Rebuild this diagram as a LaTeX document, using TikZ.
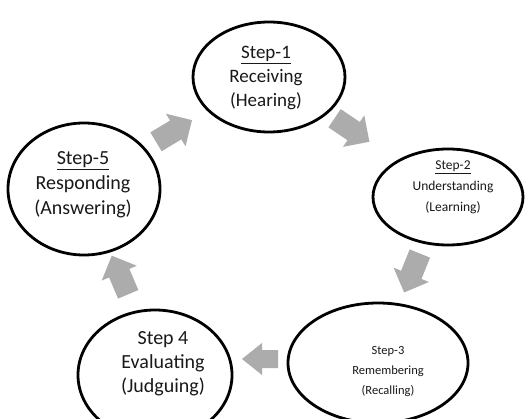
\documentclass[tikz,border=0pt]{standalone}
\usepackage{fontspec}
\setmainfont{Carlito}
\usetikzlibrary{shapes.geometric}
\definecolor{arrowgray}{RGB}{172,172,172}
\definecolor{inkgray}{RGB}{25,25,25}
\begin{document}
\begin{tikzpicture}[x=1pt,y=-1pt,
  stage/.style={draw=black, line width=2.8pt, ellipse, inner sep=0pt},
  caption/.style={align=center, text=inkgray, inner sep=0pt},
  % block arrow pointing along +x, centred on its origin
  flowarrow/.pic={
    \fill[arrowgray] (-21,-11) -- (2,-11) -- (2,-19) -- (21,0) -- (2,19)
      -- (2,11) -- (-21,11) -- cycle;
  },
  shortarrow/.pic={
    \fill[arrowgray] (-18,-9) -- (-2,-9) -- (-2,-16) -- (18,0) -- (-2,16)
      -- (-2,9) -- (-18,9) -- cycle;
  }]
  \useasboundingbox (0,0) rectangle (526,419);
  \clip (0,0) rectangle (526,419);
  \fill[white] (0,0) rectangle (526,419);

  % the five stages of the cycle
  \node[stage, minimum width=152pt, minimum height=110pt] (s1) at (269,77) {};
  \node[stage, minimum width=150pt, minimum height=96pt]  (s2) at (448,197) {};
  \node[stage, minimum width=180pt, minimum height=120pt] (s3) at (378,363) {};
  \node[stage, minimum width=154pt, minimum height=130pt] (s4) at (155,375) {};
  \node[stage, minimum width=152pt, minimum height=132pt] (s5) at (84,189) {};

  % stage texts
  \node[caption, font=\fontsize{19}{24}\selectfont] (t1) at (266,78)
    {\underline{Step-1}\\Receiving\\(Hearing)};
  \node[caption, font=\fontsize{13.5}{21}\selectfont] (t2) at (453,187)
    {\underline{Step-2}\\Understanding\\(Learning)};
  \node[caption, font=\fontsize{12.5}{20}\selectfont] (t3) at (388,372)
    {Step-3\\Remembering\\(Recalling)};
  \node[caption, font=\fontsize{20}{24}\selectfont] (t4) at (163,364)
    {Step 4\\Evaluating\\(Judguing)};
  \node[caption, font=\fontsize{20}{25}\selectfont] (t5) at (83,185)
    {\underline{Step-5}\\Responding\\(Answering)};

  % block arrows between the stages
  \pic[rotate=31]   (a51) at (174,131) {flowarrow};
  \pic[rotate=-34]  (a12) at (352,130) {flowarrow};
  \pic[rotate=-112] (a23) at (412,273) {flowarrow};
  \pic[rotate=180]  (a34) at (260,359) {shortarrow};
  \pic[rotate=113]  (a45) at (120,275) {flowarrow};
\end{tikzpicture}
\end{document}
